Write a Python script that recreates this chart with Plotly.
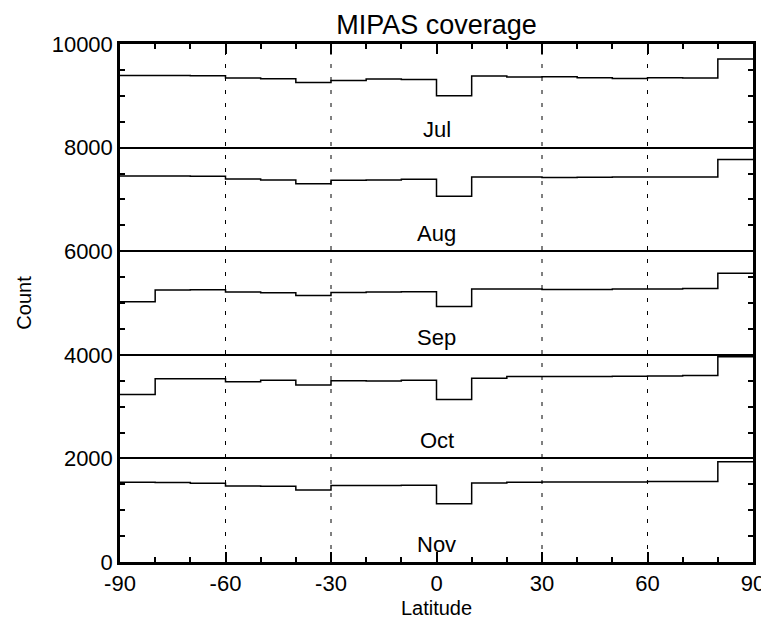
import plotly.graph_objects as go

# Latitude bin edges (10-degree bins)
lat_edges = [-90, -80, -70, -60, -50, -40, -30, -20, -10, 0, 10, 20, 30, 40, 50, 60, 70, 80, 90]

months = ["Jul", "Aug", "Sep", "Oct", "Nov"]
offsets = [8000, 6000, 4000, 2000, 0]

# Counts per 10-degree latitude bin (18 bins)
jul = [1390, 1393, 1387, 1342, 1329, 1258, 1296, 1322, 1316, 1000, 1380, 1361, 1367, 1348, 1335, 1348, 1342, 1710]
aug = [1454, 1454, 1448, 1395, 1376, 1303, 1369, 1376, 1389, 1061, 1434, 1434, 1421, 1428, 1434, 1434, 1434, 1770]
sep = [1022, 1249, 1255, 1210, 1197, 1145, 1203, 1210, 1216, 932, 1268, 1268, 1262, 1262, 1268, 1268, 1281, 1572]
oct_ = [1236, 1540, 1540, 1482, 1508, 1417, 1501, 1495, 1508, 1139, 1546, 1579, 1579, 1579, 1585, 1592, 1598, 1960]
nov = [1540, 1533, 1520, 1469, 1462, 1391, 1475, 1475, 1482, 1126, 1527, 1540, 1546, 1546, 1546, 1553, 1553, 1935]
counts = [jul, aug, sep, oct_, nov]

x_tickvals = [-90, -60, -30, 0, 30, 60, 90]
x_ticktext = ["-90", "-60", "-30", "0", "30", "60", "90"]
y_tickvals = [0, 2000, 4000, 6000, 8000, 10000]
y_ticktext = ["0", "2000", "4000", "6000", "8000", "10000"]

grid_lats = [-60, -30, 30, 60]
label_lat = 0
label_dy = 340

FONT = "Liberation Sans, Arial, Helvetica, sans-serif"

fig = go.Figure()
for name, off, c in zip(months, offsets, counts):
    y = [off + v for v in c] + [off + c[-1]]
    fig.add_trace(go.Scatter(x=lat_edges, y=y, mode="lines", line_shape="hv",
                             line=dict(color="black", width=1.5), name=name,
                             showlegend=False, hoverinfo="skip"))
    fig.add_annotation(x=label_lat, y=off + label_dy, text=name, showarrow=False,
                       xanchor="center", yanchor="middle",
                       font=dict(family=FONT, size=22, color="black"))

for g in grid_lats:
    fig.add_shape(type="line", x0=g, x1=g, y0=0, y1=1, xref="x", yref="paper",
                  line=dict(color="black", width=1, dash="4px,9px"), layer="below")

# page body adds an 8px offset; margins compensate so the plot box sits at x 120-753, y 44-562
fig.update_layout(
    width=769, height=618,
    margin=dict(l=112, r=24, t=36, b=64, autoexpand=False),
    paper_bgcolor="white", plot_bgcolor="white",
    font=dict(family=FONT, size=20, color="black"),
    title=dict(text="MIPAS coverage", x=0.5, xref="paper", y=1 - 17 / 618,
               yanchor="middle", xanchor="center",
               font=dict(family=FONT, size=27, color="black")),
)
fig.update_xaxes(range=[-90, 90], tickmode="array", tickvals=x_tickvals, ticktext=x_ticktext,
                 ticks="inside", ticklen=10, tickwidth=1.5, tickcolor="black",
                 minor=dict(dtick=10, tick0=-90, ticks="inside", ticklen=5, tickwidth=1.5, tickcolor="black"),
                 showline=True, linecolor="black", linewidth=2.5, mirror="ticks",
                 showgrid=False, zeroline=False, automargin=False,
                 title=dict(text="Latitude", standoff=6, font=dict(family=FONT, size=20)),
                 tickfont=dict(family=FONT, size=22))
fig.update_yaxes(range=[0, 10000], tickmode="array", tickvals=y_tickvals, ticktext=y_ticktext,
                 ticks="inside", ticklen=10, tickwidth=1.5, tickcolor="black",
                 minor=dict(dtick=500, tick0=0, ticks="inside", ticklen=5, tickwidth=1.5, tickcolor="black", showgrid=False),
                 showline=True, linecolor="black", linewidth=2.5, mirror="ticks",
                 showgrid=True, gridcolor="black", gridwidth=1.5, zeroline=False, automargin=False,
                 title=dict(text="Count", standoff=15, font=dict(family=FONT, size=20)),
                 tickfont=dict(family=FONT, size=22))

fig.write_html("out.html")
